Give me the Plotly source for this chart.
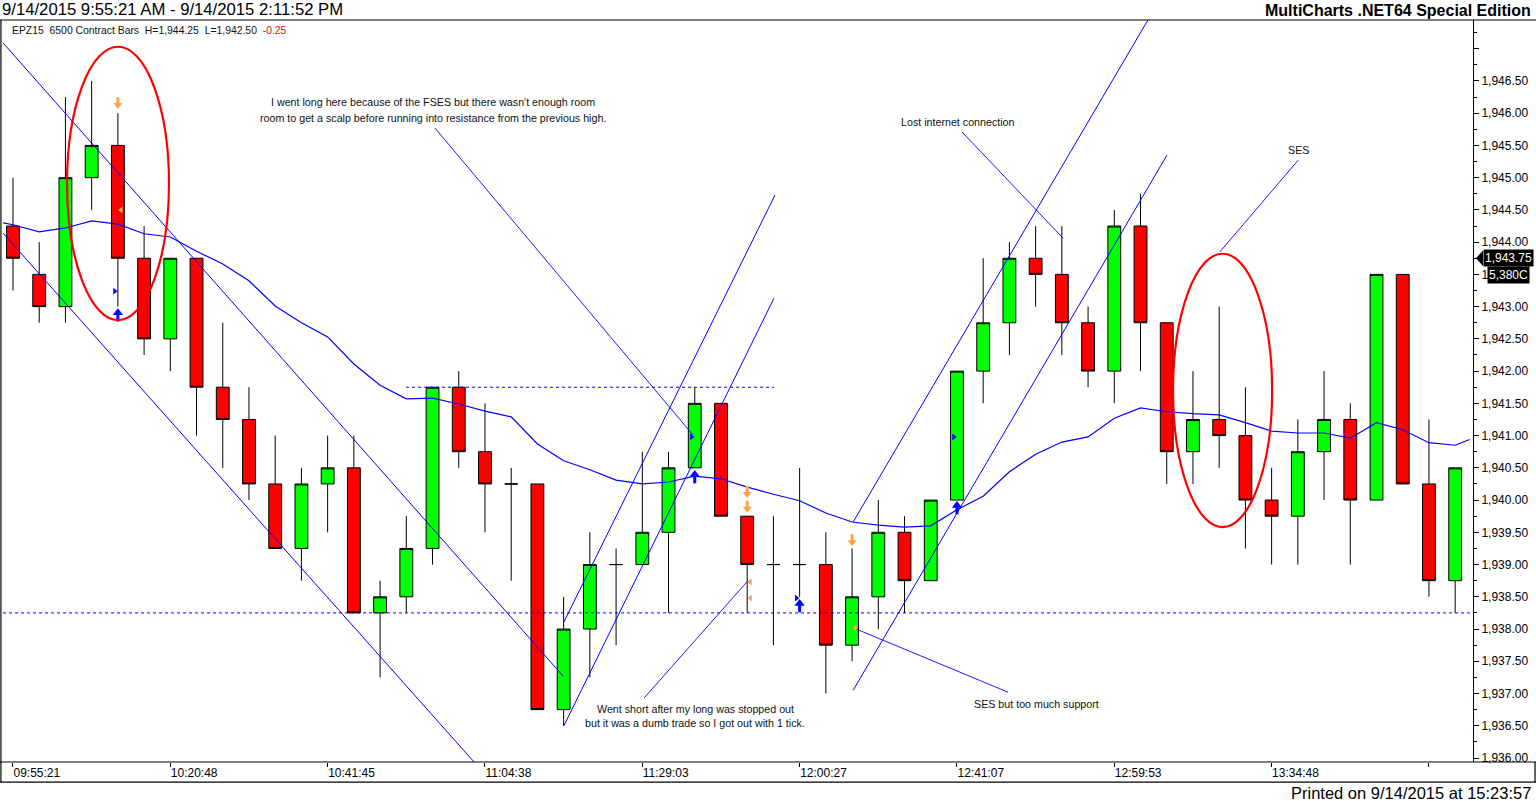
import plotly.graph_objects as go

# ---------------- data ----------------
bar_index = list(range(56))
opens = [1944.25, 1943.5, 1943.0, 1945.0, 1945.5, 1943.75, 1942.5, 1943.75, 1941.75, 1941.25,
         1940.25, 1939.25, 1940.25, 1940.5, 1938.25, 1938.5, 1939.25, 1941.75, 1940.75, 1940.25,
         1940.25, 1936.75, 1938.0, 1939.0, 1939.0, 1939.5, 1940.5, 1941.5, 1939.75, 1939.0,
         1939.0, 1939.0, 1937.75, 1938.5, 1939.5, 1938.75, 1940.0, 1942.0, 1942.75, 1943.75,
         1943.5, 1942.75, 1942.0, 1944.25, 1942.75, 1940.75, 1941.25, 1941.0, 1940.0, 1939.75,
         1940.75, 1941.25, 1940.0, 1943.5, 1940.25, 1938.75]
highs = [1945.0, 1944.0, 1946.25, 1946.5, 1946.0, 1944.25, 1943.75, 1943.75, 1942.75, 1941.75,
         1941.0, 1940.5, 1941.0, 1941.0, 1938.75, 1939.75, 1941.75, 1942.0, 1941.5, 1940.5,
         1940.25, 1938.5, 1939.5, 1939.25, 1940.75, 1940.75, 1941.75, 1941.5, 1939.75, 1939.75,
         1940.5, 1939.5, 1939.25, 1940.0, 1939.75, 1940.0, 1942.0, 1943.75, 1944.0, 1944.25,
         1944.25, 1943.0, 1944.5, 1944.75, 1942.75, 1942.0, 1943.0, 1941.75, 1940.5, 1941.25,
         1942.0, 1941.5, 1943.5, 1943.5, 1941.25, 1940.5]
lows = [1943.25, 1942.75, 1942.75, 1944.5, 1943.0, 1942.25, 1942.0, 1941.0, 1940.5, 1940.0,
        1939.25, 1938.75, 1939.5, 1938.25, 1937.25, 1938.25, 1939.0, 1940.5, 1939.5, 1938.75,
        1936.75, 1936.5, 1937.25, 1937.75, 1939.0, 1938.25, 1940.5, 1939.75, 1938.25, 1937.75,
        1938.5, 1937.0, 1937.5, 1938.0, 1938.25, 1938.75, 1940.0, 1941.5, 1942.25, 1943.0,
        1942.25, 1941.75, 1941.5, 1942.0, 1940.25, 1940.25, 1940.5, 1939.25, 1939.0, 1939.0,
        1940.0, 1939.0, 1940.0, 1940.25, 1938.5, 1938.25]
closes = [1943.75, 1943.0, 1945.0, 1945.5, 1943.75, 1942.5, 1943.75, 1941.75, 1941.25, 1940.25,
          1939.25, 1940.25, 1940.5, 1938.25, 1938.5, 1939.25, 1941.75, 1940.75, 1940.25, 1940.25,
          1936.75, 1938.0, 1939.0, 1939.0, 1939.5, 1940.5, 1941.5, 1939.75, 1939.0, 1939.0,
          1939.0, 1937.75, 1938.5, 1939.5, 1938.75, 1940.0, 1942.0, 1942.75, 1943.75, 1943.5,
          1942.75, 1942.0, 1944.25, 1942.75, 1940.75, 1941.25, 1941.0, 1940.0, 1939.75, 1940.75,
          1941.25, 1940.0, 1943.5, 1940.25, 1938.75, 1940.5]
ma_x = [-0.38] + list(range(56)) + [55.55]
moving_avg = [1944.30,
              1944.27, 1944.16, 1944.22, 1944.33, 1944.28, 1944.13, 1944.08, 1943.86, 1943.66, 1943.40,
              1943.01, 1942.75, 1942.53, 1942.11, 1941.78, 1941.57, 1941.58, 1941.49, 1941.38, 1941.29,
              1940.87, 1940.61, 1940.47, 1940.31, 1940.25, 1940.28, 1940.37, 1940.33, 1940.20, 1940.09,
              1939.99, 1939.80, 1939.66, 1939.61, 1939.58, 1939.60, 1939.85, 1940.06, 1940.44, 1940.71,
              1940.90, 1940.98, 1941.27, 1941.43, 1941.37, 1941.34, 1941.32, 1941.20, 1941.07, 1941.04,
              1941.04, 1940.96, 1941.20, 1941.09, 1940.89, 1940.85,
              1940.94]

x_tick_bars = [0, 6, 12, 18, 24, 30, 36, 42, 48, 54]
x_tick_labels = ["09:55:21", "10:20:48", "10:41:45", "11:04:38", "11:29:03",
                 "12:00:27", "12:41:07", "12:59:53", "13:34:48", ""]
y_tick_values = [1936.0, 1936.5, 1937.0, 1937.5, 1938.0, 1938.5, 1939.0, 1939.5, 1940.0, 1940.5,
                 1941.0, 1941.5, 1942.0, 1942.5, 1943.0, 1943.5, 1944.0, 1944.5, 1945.0, 1945.5,
                 1946.0, 1946.5, 1947.0]
# 1,943.50 is hidden behind the volume box in the original, only "1," shows
y_tick_labels = ["1,936.00", "1,936.50", "1,937.00", "1,937.50", "1,938.00", "1,938.50", "1,939.00",
                 "1,939.50", "1,940.00", "1,940.50", "1,941.00", "1,941.50", "1,942.00", "1,942.50",
                 "1,943.00", "1,", "1,944.00", "1,944.50", "1,945.00", "1,945.50", "1,946.00",
                 "1,946.50", ""]

# drawn trend lines: (bar index, price) endpoints
trend_lines = [
    ([-0.38, 20.98], [1947.09, 1937.27]),
    ([-0.38, 17.58], [1944.14, 1935.94]),
    ([21.01, 29.06], [1938.11, 1944.73]),
    ([21.01, 29.02], [1936.50, 1943.13]),
    ([32.04, 43.29], [1939.66, 1947.45]),
    ([32.04, 44.01], [1937.05, 1945.35]),
]
leader_lines = [
    ([16.09, 25.93], [1945.77, 1941.01]),
    ([36.19, 40.05], [1945.71, 1944.06]),
    ([49.01, 46.03], [1945.27, 1943.85]),
    ([24.07, 28.03], [1936.93, 1938.75]),
    ([37.95, 32.04], [1937.02, 1938.02]),
]
support_level = 1938.25
support_span = [-0.38, 55.68]
resistance_level = 1941.75
resistance_span = [14.99, 29.02]

notes_text = ["I went long here because of the FSES but there wasn't enough room",
              "room to get a scalp before running into resistance from the previous high.",
              "Lost internet connection",
              "SES",
              "Went short after my long was stopped out",
              "but it was a dumb trade so I got out with 1 tick.",
              "SES but too much support"]
notes_x = [16.02, 16.02, 36.04, 49.01, 26.01, 26.01, 39.05]
notes_y = [1946.17, 1945.93, 1945.86, 1945.43, 1936.76, 1936.54, 1936.84]

ellipses = [([2.06, 5.95], [1942.79, 1947.03]),
            ([44.24, 48.02], [1939.58, 1943.82])]

sell_arrow_x = [4, 28, 28, 32]
sell_arrow_y = [1946.16, 1940.13, 1939.90, 1939.38]
sell_exit_x = [4, 28, 28, 32]
sell_exit_y = [1944.50, 1938.73, 1938.48, 1938.02]
buy_arrow_x = [4, 26, 30, 36]
buy_arrow_y = [1942.87, 1940.36, 1938.36, 1939.88]
buy_exit_x = [4, 26, 30, 36]
buy_exit_y = [1943.24, 1940.98, 1938.48, 1940.98]

last_price = 1943.75
last_price_label = "1,943.75"
volume_label = "5,380C"
volume_label_y = 1943.49

# ---------------- figure ----------------
FONT = "Liberation Sans"
BLUE = "#0000FF"
ORANGE = "#FFA54F"
HEAD_OFF = 0.035   # price units (~2 px) between arrow head and stem
X_NUDGE = 0.12

def plain(**kw):
    return go.Scatter(hoverinfo="skip", showlegend=False, **kw)

fig = go.Figure()
fig.add_trace(go.Candlestick(
    x=bar_index, open=opens, high=highs, low=lows, close=closes,
    increasing=dict(line=dict(color="black", width=1), fillcolor="#00FF00"),
    decreasing=dict(line=dict(color="black", width=1), fillcolor="#FF0000"),
    whiskerwidth=0, hoverinfo="skip", showlegend=False))

fig.add_trace(plain(x=ma_x, y=moving_avg, mode="lines", line=dict(color=BLUE, width=1.2)))

for xs, ys in trend_lines:
    fig.add_trace(plain(x=xs, y=ys, mode="lines", line=dict(color=BLUE, width=1)))
for xs, ys in leader_lines:
    fig.add_trace(plain(x=xs, y=ys, mode="lines", line=dict(color=BLUE, width=0.9)))

fig.add_trace(plain(x=support_span, y=[support_level] * 2, mode="lines",
                    line=dict(color=BLUE, width=1, dash="3px,3px")))
fig.add_trace(plain(x=resistance_span, y=[resistance_level] * 2, mode="lines",
                    line=dict(color=BLUE, width=1, dash="3px,3px")))

# sell arrows (orange, pointing down): stem above, head below
fig.add_trace(plain(x=sell_arrow_x, y=[v + HEAD_OFF for v in sell_arrow_y], mode="markers",
                    marker=dict(symbol="line-ns", size=5, line=dict(color=ORANGE, width=3))))
fig.add_trace(plain(x=sell_arrow_x, y=[v - HEAD_OFF for v in sell_arrow_y], mode="markers",
                    marker=dict(symbol="triangle-down", size=8, color=ORANGE, line=dict(width=0))))
fig.add_trace(plain(x=[v + X_NUDGE for v in sell_exit_x], y=sell_exit_y, mode="markers",
                    marker=dict(symbol="triangle-left", size=6, color=ORANGE, line=dict(width=0))))
# buy arrows (blue, pointing up): stem below, head above
fig.add_trace(plain(x=buy_arrow_x, y=[v - HEAD_OFF for v in buy_arrow_y], mode="markers",
                    marker=dict(symbol="line-ns", size=6, line=dict(color=BLUE, width=3))))
fig.add_trace(plain(x=buy_arrow_x, y=[v + HEAD_OFF for v in buy_arrow_y], mode="markers",
                    marker=dict(symbol="triangle-up", size=9, color=BLUE, line=dict(width=0))))
fig.add_trace(plain(x=[v - X_NUDGE for v in buy_exit_x], y=buy_exit_y, mode="markers",
                    marker=dict(symbol="triangle-right", size=6, color=BLUE, line=dict(width=0))))

shapes = []
for xs, ys in ellipses:
    shapes.append(dict(type="circle", xref="x", yref="y", x0=xs[0], x1=xs[1], y0=ys[0], y1=ys[1],
                       line=dict(color="#FF0000", width=2.2), layer="above"))
frame = dict(color="black", width=1.2)
shapes += [
    dict(type="line", xref="paper", yref="paper", x0=-0.0021, x1=1.043, y0=1, y1=1, line=frame),
    dict(type="line", xref="paper", yref="paper", x0=-0.0021, x1=1.043, y0=0, y1=0, line=frame),
    dict(type="line", xref="paper", yref="paper", x0=-0.0021, x1=1.043, y0=-0.027, y1=-0.027, line=frame),
    dict(type="line", xref="paper", yref="paper", x0=-0.0014, x1=-0.0014, y0=-0.027, y1=1, line=frame),
    dict(type="line", xref="paper", yref="paper", x0=1.0422, x1=1.0422, y0=-0.027, y1=0, line=frame),
    dict(type="path", xref="paper", yref="y",
         path="M 1.0020,%.3f L 1.0068,%.3f L 1.0068,%.3f Z" % (last_price, last_price + 0.12, last_price - 0.12),
         fillcolor="black", line=dict(width=0)),
]

annotations = []
for t, x, y in zip(notes_text, notes_x, notes_y):
    annotations.append(dict(text=t, x=x, y=y, xref="x", yref="y", showarrow=False,
                            font=dict(family=FONT, size=10.7, color="#111111")))
annotations += [
    dict(text="9/14/2015 9:55:21 AM - 9/14/2015 2:11:52 PM", xref="paper", yref="paper",
         x=-0.0021, y=1.0, xanchor="left", yanchor="bottom", showarrow=False, yshift=-1,
         font=dict(family=FONT, size=16.7, color="black")),
    dict(text="<b>MultiCharts .NET64 Special Edition</b>", xref="paper", yref="paper",
         x=1.0408, y=1.0, xanchor="right", yanchor="bottom", showarrow=False, yshift=-1,
         font=dict(family=FONT, size=16, color="black")),
    dict(text="Printed on 9/14/2015 at 15:23:57", xref="paper", yref="paper",
         x=1.0408, y=-0.027, xanchor="right", yanchor="top", showarrow=False,
         font=dict(family=FONT, size=16.5, color="black")),
    dict(text="EPZ15  6500 Contract Bars  H=1,944.25  L=1,942.50  <span style='color:#FF0000'>-0.25</span>",
         xref="paper", yref="paper", x=0.0048, y=0.9865, xanchor="left", yanchor="middle",
         showarrow=False, font=dict(family=FONT, size=10.4, color="#111111")),
    dict(text=last_price_label, xref="paper", yref="y", x=1.0068, y=last_price, xanchor="left",
         yanchor="middle", showarrow=False, bgcolor="black", borderpad=1,
         font=dict(family=FONT, size=12, color="white")),
    dict(text=volume_label, xref="paper", yref="y", x=1.0095, y=volume_label_y, xanchor="left",
         yanchor="middle", showarrow=False, bgcolor="black", borderpad=1,
         font=dict(family=FONT, size=12, color="white")),
]

fig.update_layout(
    width=1536, height=801,
    margin=dict(l=3, r=63, t=20, b=39),
    paper_bgcolor="white", plot_bgcolor="white",
    font=dict(family=FONT, size=12, color="black"),
    showlegend=False,
    shapes=shapes, annotations=annotations,
    xaxis=dict(range=[-0.381, 55.68], showgrid=False, zeroline=False, showline=False,
               tickmode="array", tickvals=x_tick_bars, ticktext=x_tick_labels,
               ticks="outside", ticklen=4, tickcolor="black", tickwidth=1,
               ticklabelposition="outside right",
               tickfont=dict(family=FONT, size=12, color="black"),
               rangeslider=dict(visible=False), fixedrange=True),
    yaxis=dict(side="right", range=[1935.938, 1947.445], showgrid=False, zeroline=False,
               showline=True, linecolor="black", linewidth=1,
               tickmode="array", tickvals=y_tick_values, ticktext=y_tick_labels,
               ticks="outside", ticklen=5, tickcolor="black", tickwidth=1,
               minor=dict(tickmode="linear", tick0=1936.25, dtick=0.5, ticks="outside",
                          ticklen=3, tickcolor="black"),
               tickfont=dict(family=FONT, size=12, color="black"), fixedrange=True),
)

fig.write_html("out.html",
               post_script="document.body.style.margin='0px';document.body.style.overflow='hidden';",
               config={"displayModeBar": False})
